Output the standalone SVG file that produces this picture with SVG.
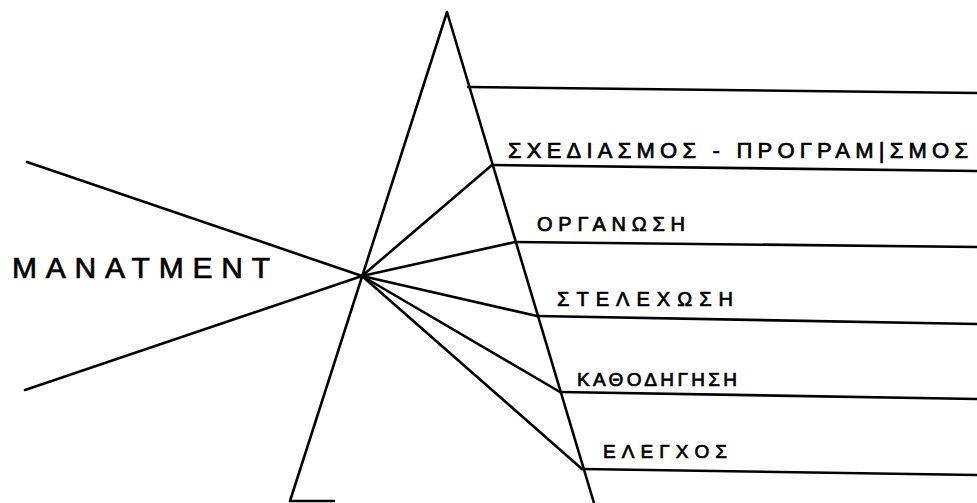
<svg xmlns="http://www.w3.org/2000/svg" width="977" height="503" viewBox="0 0 977 503">
<style>
.ln{stroke:#000;stroke-width:2.6;fill:none;stroke-linecap:round;stroke-linejoin:round}
.lb{font-family:"Liberation Sans","DejaVu Sans",sans-serif;fill:#000;stroke:#000;stroke-width:0.7}
</style>
<rect width="977" height="503" fill="#fff"/>
<g id="pyramid">
<polyline class="ln" points="334,501 290,501 447,12 594,503"/>
</g>
<g id="connectors">
<line class="ln" x1="27" y1="162" x2="362" y2="276"/>
<line class="ln" x1="25" y1="390" x2="362" y2="276"/>
<line class="ln" x1="362" y1="276" x2="492" y2="165"/>
<line class="ln" x1="362" y1="276" x2="515" y2="242"/>
<line class="ln" x1="362" y1="276" x2="537" y2="316"/>
<line class="ln" x1="362" y1="276" x2="560" y2="392"/>
<line class="ln" x1="362" y1="276" x2="582" y2="469"/>
<line class="ln" x1="468" y1="87" x2="977" y2="93"/>
<line class="ln" x1="492" y1="165" x2="977" y2="171"/>
<line class="ln" x1="515" y1="242" x2="977" y2="247"/>
<line class="ln" x1="537" y1="316" x2="977" y2="324"/>
<line class="ln" x1="560" y1="392" x2="977" y2="399"/>
<line class="ln" x1="582" y1="469" x2="977" y2="475"/>
</g>
<g id="management"><text class="lb" font-size="30" x="12" y="278" textLength="258">ΜΑΝΑΤΜΕΝΤ</text></g>
<g id="planning"><text class="lb" font-size="22" x="508" y="158" textLength="460">ΣΧΕΔΙΑΣΜΟΣ - ΠΡΟΓΡΑΜ|ΣΜΟΣ</text></g>
<g id="organizing"><text class="lb" font-size="20" x="537" y="231" textLength="148">ΟΡΓΑΝΩΣΗ</text></g>
<g id="staffing"><text class="lb" font-size="20" x="557" y="306" textLength="176">ΣΤΕΛΕΧΩΣΗ</text></g>
<g id="leading"><text class="lb" font-size="19" x="577" y="386" textLength="160">ΚΑΘΟΔΗΓΗΣΗ</text></g>
<g id="controlling"><text class="lb" font-size="19" x="603" y="458" textLength="124">ΕΛΕΓΧΟΣ</text></g>
</svg>
